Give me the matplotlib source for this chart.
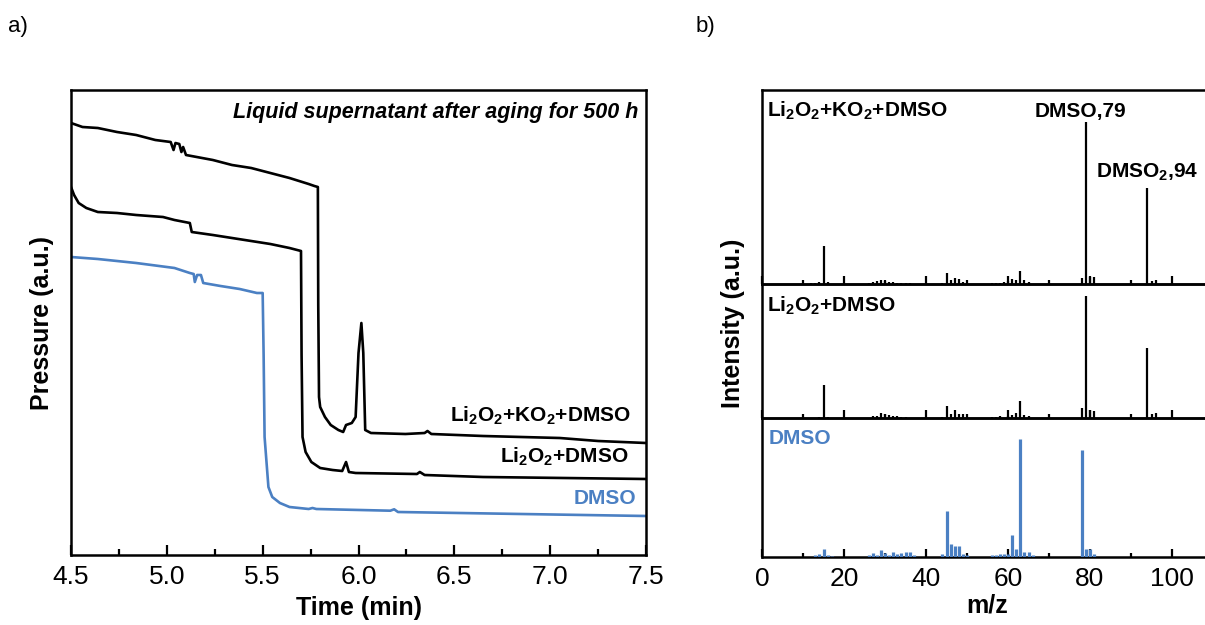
import matplotlib
matplotlib.use("Agg")
import matplotlib.pyplot as plt
from matplotlib.ticker import MultipleLocator, FormatStrFormatter

plt.rcParams['font.family'] = ['Liberation Sans', 'DejaVu Sans']
plt.rcParams['mathtext.default'] = 'regular'

BLUE = '#4b80c3'

# ---------------- panel a data (time in min, pressure a.u.) ----------------
t_ko2 = [4.50, 4.56, 4.64, 4.74, 4.84, 4.94, 5.02, 5.035, 5.045, 5.065, 5.076, 5.085, 5.10,
         5.24, 5.34, 5.44, 5.54, 5.64, 5.74, 5.77, 5.788, 5.790, 5.794, 5.80, 5.825, 5.855,
         5.895, 5.92, 5.935, 5.965, 5.985, 6.00, 6.015, 6.025, 6.035, 6.065, 6.245, 6.345,
         6.36, 6.38, 6.65, 7.05, 7.25, 7.50]
p_ko2 = [432, 428, 427, 423, 420, 415, 413, 405, 412, 411, 403, 408, 400,
         395, 390, 387, 382, 377, 371, 369, 368, 250, 158, 148, 138, 130,
         125, 123, 130, 132, 138, 202, 232, 202, 125, 122, 121, 122,
         124, 121, 119, 117, 114, 112]

t_li = [4.50, 4.516, 4.54, 4.58, 4.64, 4.74, 4.84, 4.98, 5.04, 5.12, 5.13, 5.24, 5.34, 5.44,
        5.54, 5.64, 5.70, 5.703, 5.708, 5.724, 5.754, 5.80, 5.865, 5.915, 5.935, 5.95, 5.985,
        6.305, 6.32, 6.345, 6.65, 7.50]
p_li = [368, 360, 352, 347, 343, 342, 340, 338, 335, 332, 323, 320, 317, 314,
        311, 307, 304, 200, 118, 103, 93, 87, 85, 84, 93, 83, 82,
        81, 83, 80, 78, 76]

t_dmso = [4.50, 4.64, 4.84, 5.04, 5.12, 5.14, 5.146, 5.158, 5.178, 5.19, 5.28, 5.38, 5.47,
          5.50, 5.505, 5.51, 5.53, 5.55, 5.59, 5.64, 5.74, 5.76, 5.78, 6.166, 6.186, 6.206,
          6.85, 7.50]
p_dmso = [298, 296, 292, 287, 282, 281, 273, 280, 280, 272, 269, 266, 262,
          262, 200, 118, 68, 58, 52, 48, 46, 47, 46, 44.3, 45.7, 43,
          41, 39]

# ---------------- panel b data (m/z, intensity a.u.) ----------------
mz_ko2 = [12, 13, 14, 15, 16, 26, 27, 28, 29, 30, 31, 32, 33, 34, 35, 36, 44, 45, 46, 47, 48, 49,
          56, 57, 58, 59, 60, 61, 62, 63, 64, 65, 78, 79, 80, 81, 94, 95, 96]
int_ko2 = [1, 1, 2, 38, 2, 1, 2, 3, 4, 3, 2, 2, 1, 1, 1, 1, 1, 11, 4, 6, 5, 2,
           1, 1, 1, 2, 3, 5, 4, 13, 4, 2, 6, 162, 7, 7, 96, 3, 4]

mz_li = [14, 15, 16, 27, 28, 29, 30, 31, 32, 33, 34, 35, 44, 45, 46, 47, 48, 49,
         56, 57, 58, 60, 61, 62, 63, 64, 65, 78, 79, 80, 81, 94, 95, 96]
int_li = [1, 33, 1, 2, 2, 5, 4, 3, 2, 2, 1, 1, 1, 12, 4, 8, 4, 4,
          1, 1, 2, 2, 3, 5, 17, 3, 2, 10, 122, 8, 7, 70, 4, 5]

mz_dmso = [13, 14, 15, 16, 17, 26, 27, 28, 29, 30, 31, 32, 33, 34, 35, 36, 37, 44, 45, 46, 47, 48,
           49, 50, 56, 57, 58, 59, 60, 61, 62, 63, 64, 65, 66, 78, 79, 80, 81]
int_dmso = [2, 3, 8, 2, 1, 2, 4, 2, 7, 4, 2, 5, 3, 4, 5, 5, 2, 3, 46, 13, 11, 11,
            3, 2, 2, 2, 3, 3, 3, 22, 8, 118, 5, 5, 2, 107, 8, 8, 3]

W, H = 1205, 625
fig = plt.figure(figsize=(W / 100, H / 100), dpi=100)


def fr(left, top, right, bottom):
    return [left / W, 1 - bottom / H, (right - left) / W, (bottom - top) / H]


# ---------------- panel a ----------------
axa = fig.add_axes(fr(71, 90, 646, 555))
axa.plot(t_ko2, p_ko2, color='black', lw=1.9)
axa.plot(t_li, p_li, color='black', lw=1.9)
axa.plot(t_dmso, p_dmso, color=BLUE, lw=1.9)
axa.set_xlim(4.5, 7.5)
axa.set_ylim(0, 465)
axa.xaxis.set_major_locator(MultipleLocator(0.5))
axa.xaxis.set_minor_locator(MultipleLocator(0.25))
axa.xaxis.set_major_formatter(FormatStrFormatter('%.1f'))
axa.set_yticks([])
axa.tick_params(axis='x', which='major', direction='in', length=7, width=1.6,
                labelsize=19, pad=7, top=False)
axa.tick_params(axis='x', which='minor', direction='in', length=4, width=1.6, top=False)
for s in axa.spines.values():
    s.set_linewidth(1.8)
axa.set_xlabel('Time (min)', fontsize=18, fontweight='bold', labelpad=5)
axa.set_ylabel('Pressure (a.u.)', fontsize=18, fontweight='bold', labelpad=12)
axa.text(7.46, 437, 'Liquid supernatant after aging for 500 h', fontsize=15.5,
         fontweight='bold', fontstyle='italic', ha='right', va='baseline')
axa.text(7.42, 133, r'Li$_2$O$_2$+KO$_2$+DMSO', fontsize=15, fontweight='bold',
         ha='right', va='baseline')
axa.text(7.41, 92, r'Li$_2$O$_2$+DMSO', fontsize=15, fontweight='bold',
         ha='right', va='baseline')
axa.text(7.45, 51, 'DMSO', fontsize=15, fontweight='bold', color=BLUE,
         ha='right', va='baseline')

# ---------------- panel b ----------------
xr = 110 * 4.1
rows = [(90, 284), (284, 418), (418, 557)]
series = [(mz_ko2, int_ko2, 'black', 1.6), (mz_li, int_li, 'black', 1.6),
          (mz_dmso, int_dmso, BLUE, 2.3)]
axes_b = []
for (top, bot), (mz, inten, col, lw) in zip(rows, series):
    ax = fig.add_axes(fr(762, top, 762 + xr, bot))
    ax.vlines(mz, 0, inten, color=col, lw=lw, zorder=3)
    ax.set_xlim(0, 110)
    ax.set_ylim(0, bot - top)
    ax.set_yticks([])
    ax.xaxis.set_major_locator(MultipleLocator(20))
    ax.xaxis.set_minor_locator(MultipleLocator(10))
    ax.tick_params(axis='x', which='major', direction='in', length=6, width=1.6,
                   labelsize=19, pad=7, top=False)
    ax.tick_params(axis='x', which='minor', direction='in', length=3, width=1.6, top=False)
    for s in ax.spines.values():
        s.set_linewidth(1.8)
    ax.spines['right'].set_visible(False)
    ax.patch.set_alpha(0)
    axes_b.append(ax)

for ax in axes_b[:2]:
    ax.tick_params(axis='x', labelbottom=False)

b1, b2, b3 = axes_b
b1.text(1.2, 167, r'Li$_2$O$_2$+KO$_2$+DMSO', fontsize=15, fontweight='bold', va='baseline')
b1.text(66.5, 167, 'DMSO,79', fontsize=15, fontweight='bold', va='baseline')
b1.text(81.4, 106, r'DMSO$_2$,94', fontsize=15, fontweight='bold', va='baseline')
b2.text(1.2, 106, r'Li$_2$O$_2$+DMSO', fontsize=15, fontweight='bold', va='baseline')
b3.text(1.5, 113, 'DMSO', fontsize=15, fontweight='bold', color=BLUE, va='baseline')
b3.set_xlabel('m/z', fontsize=18, fontweight='bold', labelpad=2)
fig.text(733 / W, 1 - 323 / H, 'Intensity (a.u.)', fontsize=18, fontweight='bold',
         rotation=90, ha='center', va='center')

fig.text(8 / W, 1 - 32 / H, 'a)', fontsize=16)
fig.text(696 / W, 1 - 32 / H, 'b)', fontsize=16)

fig.savefig('out.png', dpi=100)
